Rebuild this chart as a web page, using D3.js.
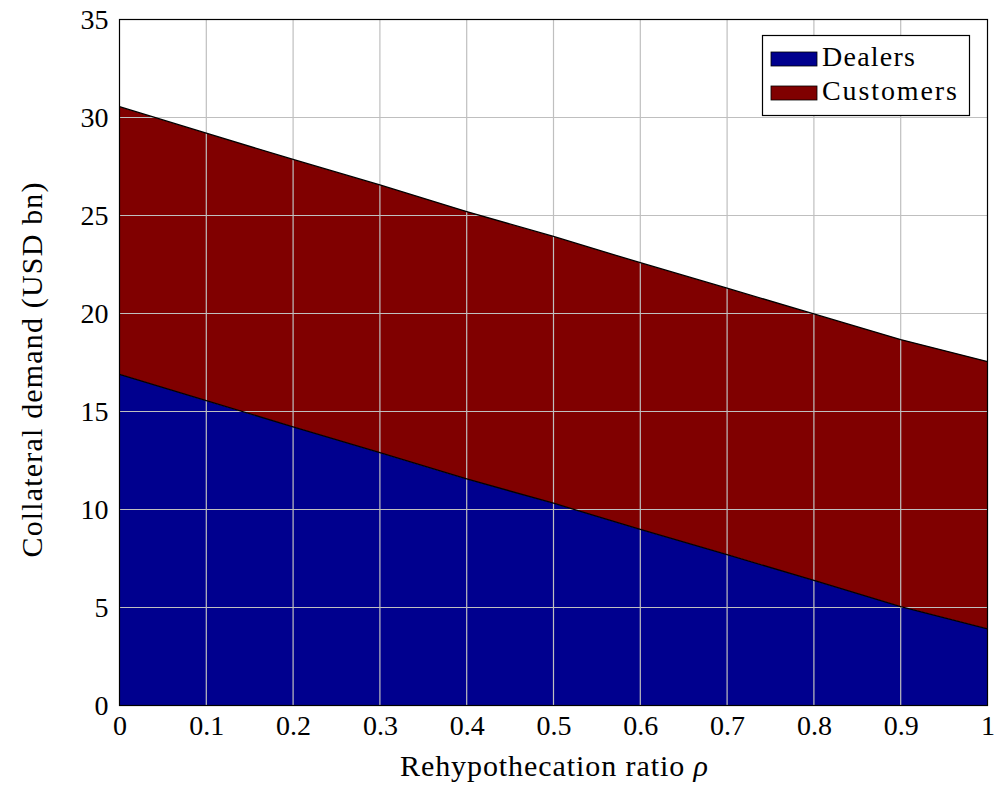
<!DOCTYPE html>
<html><head><meta charset="utf-8">
<script src="https://cdn.jsdelivr.net/npm/d3@7"></script>
<style>body{margin:0;background:#fff}svg{display:block}text{font-family:"Liberation Serif","DejaVu Serif",serif;fill:#000}</style>
</head><body>
<svg id="c" width="995" height="785"></svg>
<script>
const rho = [0,0.1,0.2,0.3,0.4,0.5,0.6,0.7,0.8,0.9,1.0];
const dealers = [16.9,15.55,14.22,12.9,11.56,10.32,8.98,7.7,6.38,5.05,3.91];
const customers = [13.65,13.65,13.64,13.66,13.64,13.61,13.61,13.59,13.6,13.62,13.64];
const xTicks = [0,0.1,0.2,0.3,0.4,0.5,0.6,0.7,0.8,0.9,1];
const yTicks = [0,5,10,15,20,25,30,35];
const seriesNames = ["Dealers","Customers"];
const colors = ["#00008e","#800000"];

const svg = d3.select("#c");
const L=119.5, R=987.5, T=19.5, B=705.5;
const x = d3.scaleLinear().domain([0,1]).range([L,R]);
const y = d3.scaleLinear().domain([0,35]).range([B,T]);

const rows = rho.map((r,i)=>({rho:r, Dealers:dealers[i], Customers:customers[i]}));
const stacked = d3.stack().keys(seriesNames)(rows);
const area = d3.area().x(d=>x(d.data.rho)).y0(d=>y(d[0])).y1(d=>y(d[1]));
const line = d3.line().x(d=>x(d.data.rho)).y(d=>y(d[1]));

svg.selectAll("path.a").data(stacked).join("path").attr("class","a")
  .attr("d",area).attr("fill",(d,i)=>colors[i]);

// grid
const g = svg.append("g");
g.selectAll("line.gx").data(xTicks.slice(1,-1)).join("line")
  .attr("x1",d=>x(d)).attr("x2",d=>x(d)).attr("y1",T).attr("y2",B)
  .attr("stroke","#bfbfbf").attr("stroke-width",1.2);
g.selectAll("line.gy").data(yTicks.slice(1,-1)).join("line")
  .attr("y1",d=>y(d)).attr("y2",d=>y(d)).attr("x1",L).attr("x2",R)
  .attr("stroke","#bfbfbf").attr("stroke-width",1.2);

svg.selectAll("path.l").data(stacked).join("path").attr("class","l")
  .attr("d",line).attr("fill","none").attr("stroke","#000").attr("stroke-width",1.3);

// frame
svg.append("rect").attr("x",L).attr("y",T).attr("width",R-L).attr("height",B-T)
  .attr("fill","none").attr("stroke","#000").attr("stroke-width",1.2);

// axes
const xa = svg.append("g").attr("transform",`translate(0,${B})`)
  .call(d3.axisBottom(x).tickValues(xTicks).tickSize(0).tickPadding(0).tickFormat(d=>d3.format("")(d)));
xa.select(".domain").remove();
xa.selectAll("text").attr("font-size",28).attr("dy",0).attr("y",29).style("font-family","Liberation Serif");
const ya = svg.append("g").attr("transform",`translate(${L},0)`)
  .call(d3.axisLeft(y).tickValues(yTicks).tickSize(0).tickPadding(11));
ya.select(".domain").remove();
ya.selectAll("text").attr("font-size",28).attr("dy","0.33em").style("font-family","Liberation Serif");

svg.append("text").attr("x",554).attr("y",776).attr("text-anchor","middle")
  .attr("font-size",30).attr("textLength",308).attr("lengthAdjust","spacing")
  .html('Rehypothecation ratio <tspan font-style="italic">ρ</tspan>');
svg.append("text").attr("transform",`translate(42,370) rotate(-90)`).attr("text-anchor","middle")
  .attr("font-size",30).attr("textLength",375).attr("lengthAdjust","spacing")
  .text("Collateral demand (USD bn)");

// legend
const legendW = [93,135];
const lg = svg.append("g");
lg.append("rect").attr("x",762.5).attr("y",35.5).attr("width",207).attr("height",80)
  .attr("fill","#fff").attr("stroke","#000").attr("stroke-width",1.2);
seriesNames.forEach((n,i)=>{
  const yy = 52 + i*34;
  lg.append("rect").attr("x",771).attr("y",yy).attr("width",46).attr("height",14)
    .attr("fill",colors[i]).attr("stroke","#000").attr("stroke-width",0.8);
  lg.append("text").attr("x",822).attr("y",yy+14).attr("font-size",28)
    .attr("textLength",legendW[i]).attr("lengthAdjust","spacing").text(n);
});
</script>
</body></html>
